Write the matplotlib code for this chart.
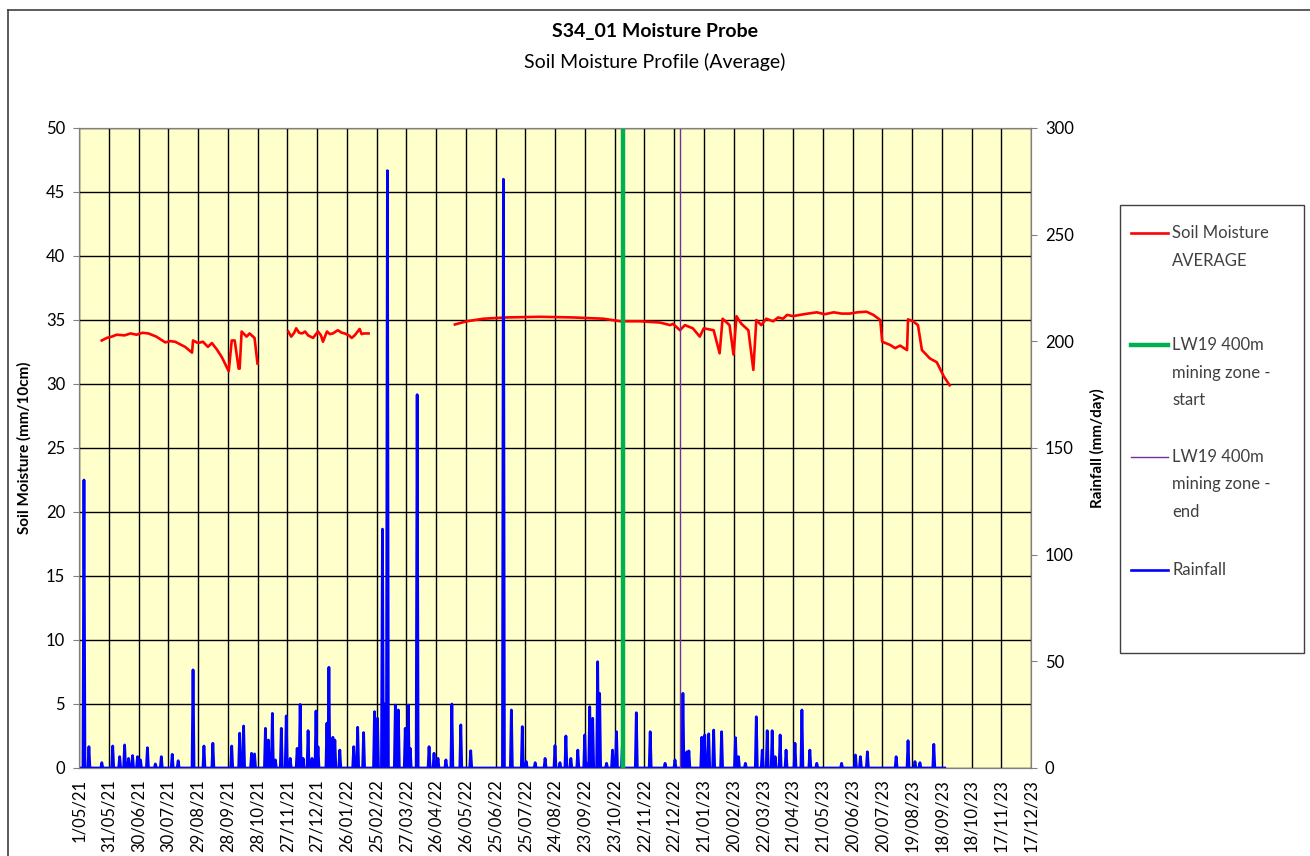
# S34_01 soil moisture probe vs rainfall

from datetime import datetime, timedelta

import numpy as np
import matplotlib
matplotlib.use("Agg")
import matplotlib.pyplot as plt
from matplotlib.lines import Line2D
from matplotlib.patches import Rectangle

plt.rcParams['font.family'] = ['Lato', 'DejaVu Sans']

START = datetime(2021, 5, 1)

# x tick labels (every 30 days)
tick_labels = ['1/05/21', '31/05/21', '30/06/21', '30/07/21', '29/08/21', '28/09/21',
               '28/10/21', '27/11/21', '27/12/21', '26/01/22', '25/02/22', '27/03/22',
               '26/04/22', '26/05/22', '25/06/22', '25/07/22', '24/08/22', '23/09/22',
               '23/10/22', '22/11/22', '22/12/22', '21/01/23', '20/02/23', '22/03/23',
               '21/04/23', '21/05/23', '20/06/23', '20/07/23', '19/08/23', '18/09/23',
               '18/10/23', '17/11/23', '17/12/23']

# soil moisture average (days since 1/05/21, mm/10cm), three logging periods
seg1_day = [23, 28, 33, 38, 46, 52, 58, 64, 70, 78, 87, 92, 97, 102, 107, 114, 115, 120,
            125, 130, 134, 139, 144, 151, 154, 157, 161, 162, 164, 169, 172, 177, 180]
seg1_val = [33.4, 33.6, 33.7, 33.85, 33.8, 33.95, 33.85, 34.0, 33.95, 33.7, 33.25, 33.35,
            33.3, 33.1, 32.9, 32.45, 33.4, 33.2, 33.3, 32.9, 33.2, 32.7, 32.1, 31.0, 33.4,
            33.4, 31.2, 31.2, 34.1, 33.7, 33.95, 33.6, 31.6]
seg2_day = [211, 214, 217, 219, 222, 225, 228, 231, 236, 241, 244, 246, 250, 253, 256,
            261, 265, 268, 272, 275, 278, 283, 285, 287, 292]
seg2_val = [34.1, 33.7, 34.0, 34.35, 34.0, 33.95, 34.1, 33.8, 33.6, 34.1, 33.8, 33.3,
            34.1, 33.9, 33.95, 34.2, 34.0, 33.95, 33.8, 33.6, 33.8, 34.3, 33.9, 33.95,
            33.95]
seg3_day = [379, 391, 408, 431, 465, 498, 529, 546, 566, 586, 596, 599, 606, 611, 619,
            626, 630, 640, 646, 649, 656, 660, 663, 668, 675, 680, 683, 688, 693, 700,
            705, 710, 714, 720, 727, 735, 744, 752, 761, 769, 777, 785, 794, 801, 808,
            810, 818, 823, 828, 835, 836, 841, 846, 850, 858, 865, 872, 878]
seg3_val = [34.65, 34.9, 35.1, 35.2, 35.25, 35.2, 35.1, 34.9, 34.9, 34.8, 34.6, 34.7,
            34.2, 34.6, 34.35, 33.7, 34.35, 34.2, 32.4, 35.1, 34.6, 32.3, 35.3, 34.7,
            34.2, 31.1, 35.0, 34.6, 35.1, 34.9, 35.2, 35.1, 35.4, 35.3, 35.4, 35.5, 35.6,
            35.45, 35.6, 35.5, 35.5, 35.6, 35.65, 35.4, 35.0, 33.3, 33.05, 32.8, 33.0,
            32.65, 35.05, 34.9, 34.6, 32.65, 32.0, 31.7, 30.6, 29.9]

# daily rainfall events (days since 1/05/21, mm/day); other days are 0
rain_day = [5, 10, 23, 34, 41, 46, 50, 54, 59, 62, 69, 77, 83, 94, 100, 115, 126, 135,
            154, 162, 166, 174, 177, 188, 191, 195, 198, 204, 209, 213, 220, 223, 226,
            231, 235, 239, 241, 250, 252, 256, 258, 263, 277, 281, 287, 298, 301, 306,
            308, 311, 319, 322, 329, 332, 334, 341, 353, 358, 362, 370, 376, 385, 395,
            428, 436, 447, 451, 460, 470, 480, 485, 491, 496, 503, 510, 512, 515, 518,
            523, 525, 532, 538, 542, 548, 562, 576, 591, 601, 609, 613, 615, 628, 631,
            635, 640, 648, 662, 665, 672, 683, 689, 694, 699, 702, 707, 713, 722, 729,
            737, 744, 769, 783, 788, 795, 824, 836, 843, 848, 862]
rain_mm = [135, 10, 2.5, 10.3, 5.3, 10.8, 4.5, 5.8, 5.3, 3.8, 9.5, 1.9, 5.3, 6.4, 3.4,
           46, 10.3, 11.6, 10.3, 16.3, 19.7, 6.9, 6.6, 18.6, 13.1, 25.6, 3.8, 18.6, 24.4,
           4.5, 9.2, 29.8, 4.5, 17.5, 4.5, 26.7, 10, 21, 47.2, 14.4, 13.1, 8.4, 10, 19.1,
           16.6, 26.4, 23.3, 112, 30, 280, 29.5, 27.2, 18.6, 29.5, 9.2, 175, 10, 6.9, 4.5,
           3.8, 30, 20.2, 8.1, 276, 27.2, 19.4, 3, 2.5, 4.5, 10.5, 2.5, 15, 4.5, 8.4,
           15.5, 2.2, 28.7, 23.3, 49.8, 35, 2.2, 8.4, 17, 11.6, 25.9, 17, 2.2, 3.8, 35,
           7.6, 8, 14.4, 15.5, 16, 17.8, 17, 14.2, 5.3, 2.2, 24, 8.4, 17.5, 17.5, 5.3,
           15.5, 8.4, 11.6, 27.2, 8.4, 2.2, 2.2, 6.1, 5.3, 7.6, 5.3, 12.8, 3, 2.5, 11.1]
rain_last_day = 873

# mining zone markers
lw19_start = datetime(2022, 11, 1)
lw19_end = datetime(2022, 12, 28)


def to_dates(days):
    return [START + timedelta(days=d) for d in days]


tick_dates = [datetime.strptime(t, '%d/%m/%y') for t in tick_labels]

rain_daily = np.zeros(rain_last_day + 1)
rain_daily[rain_day] = rain_mm
rain_dates = to_dates(range(rain_last_day + 1))

fig = plt.figure(figsize=(13.1, 8.56), dpi=100)
ax = fig.add_axes([79 / 1310, 88 / 856, 952 / 1310, 640 / 856])
ax2 = ax.twinx()

ax.set_facecolor('#FFFFCC')
ax.set_zorder(1)
ax2.set_zorder(2)
ax2.patch.set_visible(False)

red = '#FF0000'
ax.plot(to_dates(seg1_day), seg1_val, color=red, lw=1.9)
ax.plot(to_dates(seg2_day), seg2_val, color=red, lw=1.9)
ax.plot(to_dates(seg3_day), seg3_val, color=red, lw=1.9)

ax2.plot(rain_dates, rain_daily, color='#0000FF', lw=2.0)
ax2.axvline(lw19_start, color='#00B050', lw=3.2)
ax2.axvline(lw19_end, color='#7030A0', lw=1.0)

ax.set_xlim(tick_dates[0], tick_dates[-1])
ax.set_ylim(0, 50)
ax.set_yticks(np.arange(0, 51, 5))
ax2.set_ylim(0, 300)
ax2.set_yticks(np.arange(0, 301, 50))
ax.set_xticks(tick_dates)
ax.set_xticklabels(tick_labels, rotation=90)

ax.grid(True, color='black', lw=1.0)
ax.set_axisbelow(True)
for a in (ax, ax2):
    a.tick_params(labelsize=12, length=4, color='#808080', pad=6)
    for s in a.spines.values():
        s.set_color('#808080')
ax.tick_params(axis='x', length=0, pad=8)

ax.set_ylabel('Soil Moisture (mm/10cm)', fontsize=11, fontweight='bold', labelpad=10)
ax2.set_ylabel('Rainfall (mm/day)', fontsize=11, fontweight='bold', labelpad=12)

fig.text(0.5, 1 - 31 / 856, 'S34_01 Moisture Probe', ha='center', va='center',
         fontsize=14, fontweight='bold')
fig.text(0.5, 1 - 62 / 856, 'Soil Moisture Profile (Average)', ha='center', va='center',
         fontsize=14)

# chart border (cropped on right/bottom)
fig.add_artist(Line2D([8 / 1310, 1.0], [1 - 10 / 856] * 2, color='#404040', lw=1.2))
fig.add_artist(Line2D([8 / 1310] * 2, [0, 1 - 10 / 856], color='#404040', lw=1.2))

# legend box
W, H = 1310, 856
fig.add_artist(Rectangle((1120 / W, 1 - 653 / H), 184 / W, 448 / H, transform=fig.transFigure,
                         fill=False, edgecolor='#404040', lw=1.0))
legend_items = [
    (red, 1.9, ['Soil Moisture', 'AVERAGE'], 233),
    ('#00B050', 3.2, ['LW19 400m', 'mining zone -', 'start'], 345),
    ('#7030A0', 1.0, ['LW19 400m', 'mining zone -', 'end'], 457),
    ('#0000FF', 1.9, ['Rainfall'], 570),
]
for color, lw, lines, ypx in legend_items:
    fig.add_artist(Line2D([1131 / W, 1168 / W], [1 - ypx / H] * 2, color=color, lw=lw))
    for i, line in enumerate(lines):
        fig.text(1172 / W, 1 - (ypx + i * 27.5) / H, line, ha='left', va='center',
                 fontsize=12, color='#404040')

plt.savefig('out.png', dpi=100)
